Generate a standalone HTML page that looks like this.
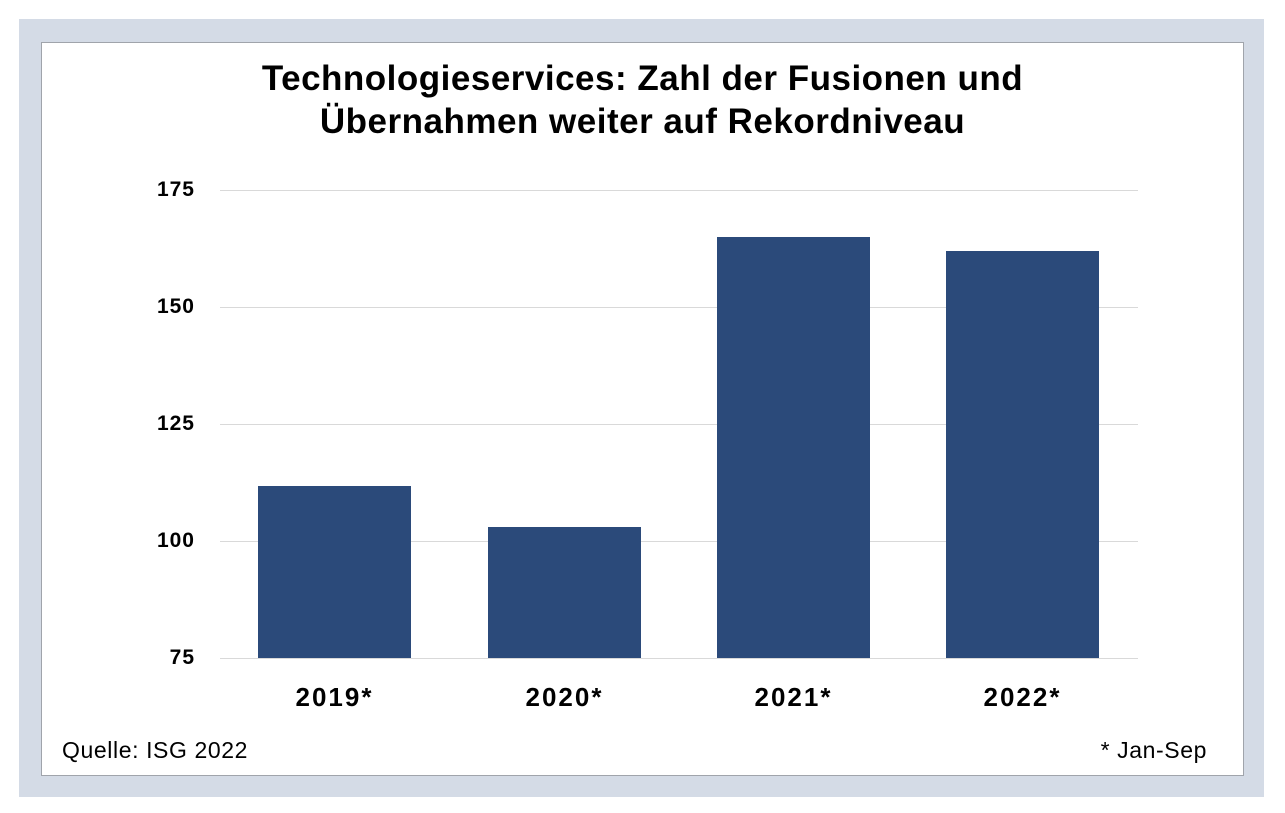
<!DOCTYPE html>
<html><head><meta charset="utf-8"><style>
body{margin:0;width:1285px;height:813px;background:#fff;font-family:"Liberation Sans",sans-serif;position:relative;overflow:hidden}
.outer{position:absolute;left:19px;top:19px;width:1245px;height:778px;background:#d4dbe6}
.inner{position:absolute;left:41px;top:42px;width:1201px;height:732px;background:#fff;border:1px solid #a0a4ab}
.t{position:absolute;font-weight:bold;color:#000}
.g{position:absolute;left:220px;width:918px;height:1px;background:#d9d9d9}
.b{position:absolute;width:153px;background:#2b4a7a}
.yl{position:absolute;width:80px;left:115px;text-align:right;font-weight:bold;font-size:21px;letter-spacing:1px}
.xl{position:absolute;width:153px;text-align:center;font-weight:bold;font-size:26px;letter-spacing:2px;top:682px}
</style></head><body>
<div class="outer"></div><div class="inner"></div>
<div class="t" style="left:0;width:1285px;top:57px;text-align:center;font-size:35px;letter-spacing:0.5px;line-height:43px">Technologieservices: Zahl der Fusionen und<br>Übernahmen weiter auf Rekordniveau</div>
<div class="g" style="top:190px"></div><div class="g" style="top:307px"></div><div class="g" style="top:424px"></div><div class="g" style="top:541px"></div><div class="g" style="top:658px"></div>
<div class="yl" style="top:178px">175</div><div class="yl" style="top:295px">150</div><div class="yl" style="top:412px">125</div><div class="yl" style="top:529px">100</div><div class="yl" style="top:646px">75</div>
<div class="b" style="left:258px;top:486px;height:172px"></div>
<div class="b" style="left:488px;top:527px;height:131px"></div>
<div class="b" style="left:717px;top:237px;height:421px"></div>
<div class="b" style="left:946px;top:251px;height:407px"></div>
<div class="xl" style="left:258px">2019*</div><div class="xl" style="left:488px">2020*</div><div class="xl" style="left:717px">2021*</div><div class="xl" style="left:946px">2022*</div>
<div style="position:absolute;left:62px;top:737px;font-size:23px;letter-spacing:0.6px">Quelle: ISG 2022</div>
<div style="position:absolute;right:78px;top:737px;font-size:23px;letter-spacing:0.6px">* Jan-Sep</div>
</body></html>
